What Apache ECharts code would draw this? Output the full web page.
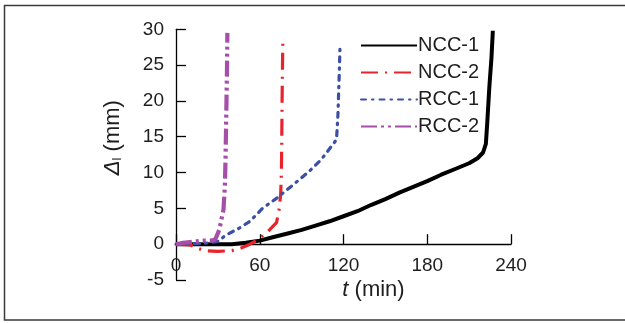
<!DOCTYPE html>
<html><head><meta charset="utf-8">
<script src="https://cdn.jsdelivr.net/npm/echarts@6/dist/echarts.min.js"></script>
<style>html,body{margin:0;padding:0;background:#fff}#c{width:625px;height:323px}</style>
</head><body><div id="c"></div>
<script>
// data: [t (min), Δl (mm)]
var seriesNames = ['NCC-1', 'NCC-2', 'RCC-1', 'RCC-2'];
var ncc1 = [[0,0],[20,0],[40,0],[50,0.2],[60,0.5],[70,1.0],[80,1.5],[90,2.0],[100,2.6],[110,3.2],[120,3.9],[130,4.6],[140,5.5],[150,6.3],[160,7.2],[170,8.0],[180,8.8],[190,9.7],[200,10.5],[210,11.3],[216,12.0],[220,12.8],[222,14],[223,17],[224.5,22],[226,26],[227,29.8]];
var ncc2 = [[0,0],[10,-0.1],[15,-0.5],[20,-0.9],[30,-1.0],[40,-0.9],[47,-0.5],[53,0],[60,0.8],[67,2.0],[72,3.0],[74,5],[75,7],[75.5,10],[75.8,15],[76,20],[76.3,25],[76.5,28]];
var rcc1 = [[0,0],[20,0.1],[30,0.4],[36,1.3],[45,2.2],[53,3.2],[62,5.0],[72,6.4],[84,8.3],[95,10.1],[104,11.8],[115,14.6],[116,18],[116.5,21],[117,24],[117.5,27.6]];
var rcc2 = [[0,0],[5,0.2],[10,0.3],[15,0.4],[20,0.5],[25,0.5],[28,0.6],[31,2],[34,4.8],[35,8],[35.5,12],[36,18],[36.5,24],[36.8,29.5]];
var xTicks = {min:0, max:240, interval:60};
var yTicks = {min:-5, max:30, interval:5};

var font = 'Liberation Sans, Arial, sans-serif';
var txt = '#1e1e1e';
var gridTop = 29.3, gridBottom = 43, H = 323;
// x axis sits at y = 0: shift it up from the grid bottom by the pixel height of (0 - yMin)
var xAxisOffset = -(H - gridTop - gridBottom) * (0 - yTicks.min) / (yTicks.max - yTicks.min);
var chart = echarts.init(document.getElementById('c'), null, {renderer:'canvas'});
chart.setOption({
  animation:false,
  backgroundColor:'#fff',
  graphic:[{type:'rect', shape:{x:4.5,y:5.5,width:640,height:314.5}, style:{fill:'none', stroke:'#3a3a3a', lineWidth:1.5}, silent:true}],
  grid:{left:176, right:114, top:gridTop, bottom:gridBottom, outerBoundsMode:'none', containLabel:false},
  legend:{
    orient:'vertical', left:355, top:30, itemWidth:56, itemHeight:12, itemGap:6,
    itemStyle:{opacity:0},
    textStyle:{fontFamily:font, fontSize:20, lineHeight:21, color:txt, padding:[0,0,0,-4]},
    data:seriesNames
  },
  xAxis:{
    type:'value', min:xTicks.min, max:xTicks.max, interval:xTicks.interval,
    position:'bottom', offset:xAxisOffset,
    splitLine:{show:false},
    axisLine:{onZero:false, lineStyle:{color:'#000', width:1.3}},
    axisTick:{inside:true, length:10, lineStyle:{color:'#000', width:1.3}},
    axisLabel:{fontFamily:font, fontSize:19, color:txt, margin:12, showMinLabel:true, showMaxLabel:true},
    name:'{i|t} (min)', nameLocation:'middle', nameGap:35, nameMoveOverlap:false,
    nameTextStyle:{fontFamily:font, fontSize:22, color:txt, padding:[0,0,0,60],
      rich:{i:{fontFamily:font, fontSize:22, fontStyle:'italic', color:txt}}}
  },
  yAxis:{
    type:'value', min:yTicks.min, max:yTicks.max, interval:yTicks.interval,
    splitLine:{show:false},
    axisLine:{onZero:false, lineStyle:{color:'#000', width:1.3}},
    axisTick:{inside:true, length:10, lineStyle:{color:'#000', width:1.3}},
    axisLabel:{fontFamily:font, fontSize:19, color:txt, margin:12},
    name:'{d|Δ}{s|l} (mm)', nameLocation:'middle', nameGap:52, nameMoveOverlap:false,
    nameTextStyle:{fontFamily:font, fontSize:22, color:txt, padding:[0,0,0,34],
      rich:{d:{fontFamily:font, fontSize:22, fontStyle:'italic', color:txt},
            s:{fontFamily:font, fontSize:13, color:txt, verticalAlign:'bottom', padding:[9,0,0,0]}}}
  },
  series:[
    {name:'NCC-1', type:'line', data:ncc1, symbol:'none', color:'#000',
      lineStyle:{color:'#000', width:4}},
    {name:'NCC-2', type:'line', data:ncc2, symbol:'none', color:'#e8232b',
      lineStyle:{color:'#e8232b', width:3.2, type:[17,7,2,7]}},
    {name:'RCC-1', type:'line', data:rcc1, symbol:'none', color:'#3b4fa5',
      lineStyle:{color:'#3b4fa5', width:3.2, type:[5,6,1.5,6], cap:'round'}},
    {name:'RCC-2', type:'line', data:rcc2, symbol:'none', color:'#a54fa8',
      lineStyle:{color:'#a54fa8', width:4.2, type:[16,4,3,4,3,4]}}
  ]
});
</script></body></html>
